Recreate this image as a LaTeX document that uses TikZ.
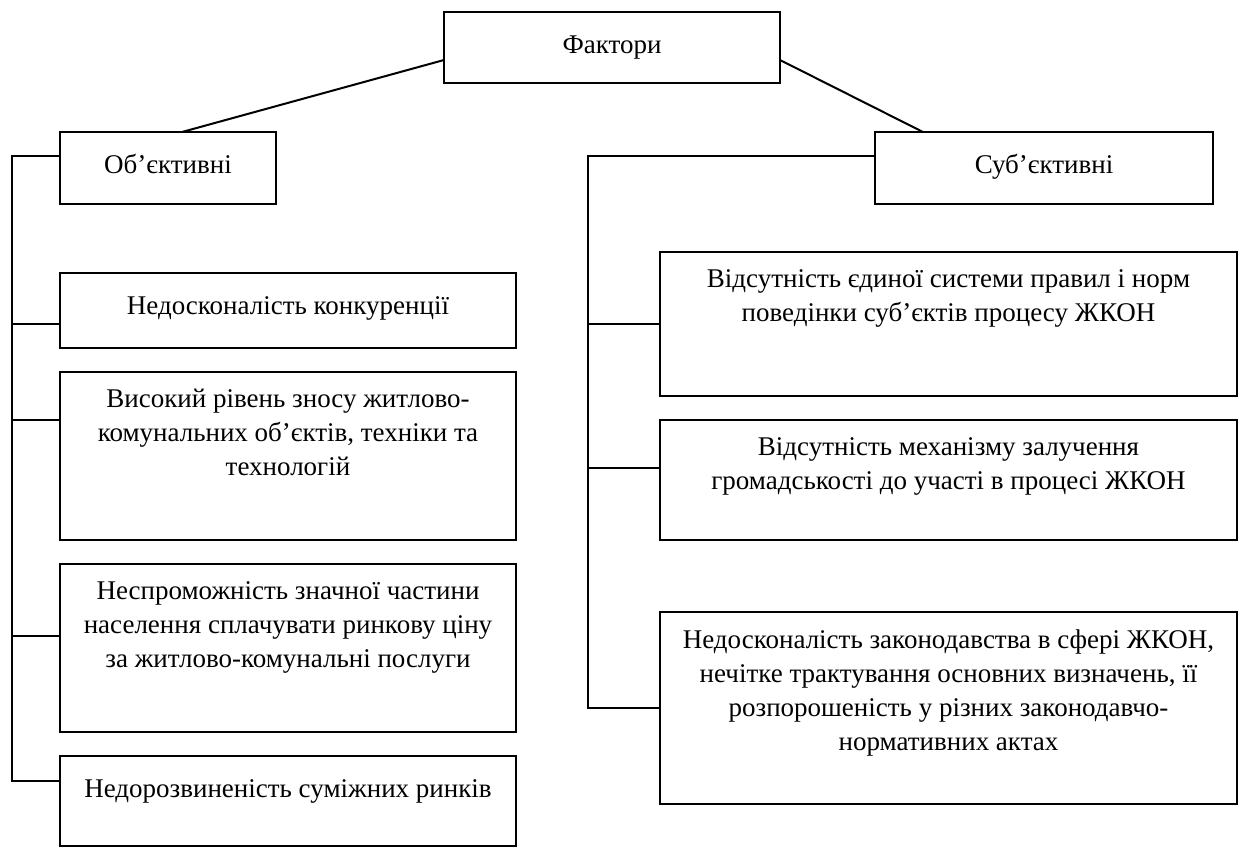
\documentclass[tikz,border=0pt]{standalone}
\usepackage{fontspec}
\setmainfont{Liberation Serif}
\begin{document}
\begin{tikzpicture}[x=0.5pt,y=-0.5pt,
  box/.style={draw, line width=1pt, inner sep=0pt, outer sep=0pt},
  txt/.style={anchor=north, inner sep=0pt, align=center, yshift=-8.5pt,
    font=\fontsize{13.5pt}{17pt}\selectfont, execute at begin node=\strut},
  conn/.style={line width=1pt}]
\useasboundingbox (0,0) rectangle (1238,848);
% boxes
\node[box, minimum width=168pt, minimum height=35.5pt] (fak) at (612,47.5) {};
\node[box, minimum width=108pt, minimum height=36pt] (obj) at (168,168) {};
\node[box, minimum width=169pt, minimum height=36pt] (sub) at (1044,168) {};
\node[box, minimum width=228pt, minimum height=37.5pt] (l1) at (288,310.5) {};
\node[box, minimum width=228pt, minimum height=84pt] (l2) at (288,456) {};
\node[box, minimum width=228pt, minimum height=84pt] (l3) at (288,648) {};
\node[box, minimum width=228pt, minimum height=45pt] (l4) at (288,801) {};
\node[box, minimum width=288.5pt, minimum height=72pt] (r1) at (948.5,324) {};
\node[box, minimum width=288.5pt, minimum height=60pt] (r2) at (948.5,480) {};
\node[box, minimum width=288.5pt, minimum height=96pt] (r3) at (948.5,708) {};
% texts
\node[txt] (tfak) at (fak.north) {Фактори};
\node[txt] (tobj) at (obj.north) {Об’єктивні};
\node[txt] (tsub) at (sub.north) {Суб’єктивні};
\node[txt] (tl1) at (l1.north) {Недосконалість конкуренції};
\node[txt] (tl2) at (l2.north) {Високий рівень зносу житлово-\\комунальних об’єктів, техніки та\\технологій};
\node[txt] (tl3) at (l3.north) {Неспроможність значної частини\\населення сплачувати ринкову ціну\\за житлово-комунальні послуги};
\node[txt] (tl4) at (l4.north) {Недорозвиненість суміжних ринків};
\node[txt] (tr1) at (r1.north) {Відсутність єдиної системи правил і норм\\поведінки суб’єктів процесу ЖКОН};
\node[txt] (tr2) at (r2.north) {Відсутність механізму залучення\\громадськості до участі в процесі ЖКОН};
\node[txt] (tr3) at (r3.north) {Недосконалість законодавства в сфері ЖКОН,\\нечітке трактування основних визначень, її\\розпорошеність у різних законодавчо-\\нормативних актах};
% top connectors
\draw[conn] (fak.west |- 0,60) -- (obj.north -| 182,0);
\draw[conn] (fak.east |- 0,60) -- (sub.north -| 923,0);
% left trunk
\coordinate (lb) at (12,781);
\draw[conn] (obj.west |- 0,156) -| (lb) -- (l4.west |- lb);
\draw[conn] (lb |- 0,324) -- (l1.west |- 0,324);
\draw[conn] (lb |- 0,420) -- (l2.west |- 0,420);
\draw[conn] (lb |- 0,636) -- (l3.west |- 0,636);
% right trunk
\coordinate (rb) at (588,708);
\draw[conn] (sub.west |- 0,156) -| (rb) -- (r3.west |- rb);
\draw[conn] (rb |- 0,324) -- (r1.west |- 0,324);
\draw[conn] (rb |- 0,468) -- (r2.west |- 0,468);
\end{tikzpicture}
\end{document}
